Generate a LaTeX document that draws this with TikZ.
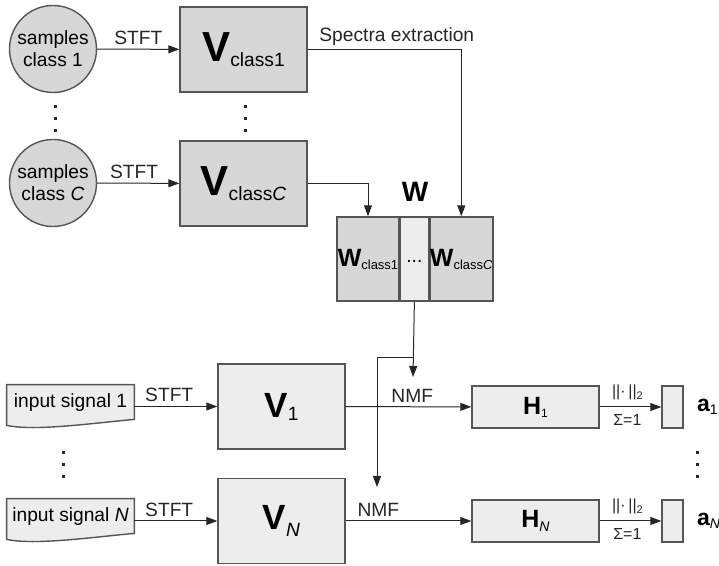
\documentclass[tikz,border=0pt]{standalone}
\usepackage{fontspec}
\setmainfont{Liberation Sans}
\usepackage{xcolor}
\usetikzlibrary{arrows.meta,positioning,backgrounds}
\definecolor{fillA}{RGB}{215,215,215}
\definecolor{fillB}{RGB}{237,237,237}
\definecolor{edge}{RGB}{85,85,85}
\newcommand{\lbl}{\fontsize{9.6}{11}\selectfont}
\newcommand{\sml}{\fontsize{8}{9}\selectfont}

\begin{document}
\begin{tikzpicture}[x=0.5pt, y=-0.5pt, font=\lbl,
  smp/.style={circle, draw=edge, line width=0.7pt, fill=fillA, minimum size=43.5pt, inner sep=0pt, align=center},
  vbox/.style={draw=edge, line width=0.7pt, fill=fillA, minimum width=63.5pt, minimum height=42.5pt, inner sep=0pt},
  hbox/.style={draw=edge, line width=0.7pt, fill=fillB, minimum width=63.5pt, minimum height=21pt, inner sep=0pt},
  abox/.style={draw=edge, line width=0.7pt, fill=fillB, minimum width=10.5pt, minimum height=21pt, inner sep=0pt},
  wpart/.style={draw=edge, line width=0.7pt, fill=fillA, minimum height=42pt, inner sep=0pt},
  sig/.style={minimum width=63.5pt, minimum height=18pt, inner sep=0pt},
  sigedge/.style={draw=edge, line width=0.7pt, fill=fillB},
  arr/.style={-{Triangle[length=5.5pt,width=4pt]}, line width=0.5pt, black!85},
  lab/.style={inner sep=2pt, font=\lbl},
  nlab/.style={inner sep=3.5pt, font=\sml}]
  \useasboundingbox (0,0) rectangle (719,566);
  % training part
  \node[smp] (c1) at (53,49) {samples\\class 1};
  \node[smp] (cC) at (53,183) {samples\\class \textit{C}};
  \node[vbox] (Vc1) at (243.5,49.5) {{\fontsize{21}{21}\selectfont\bfseries V}\raisebox{-2.5pt}{class1}};
  \node[vbox] (VcC) at (243.5,183.5) {{\fontsize{21}{21}\selectfont\bfseries V}\raisebox{-2.5pt}{class\textit{C}}};
  \draw[arr] (c1) -- (Vc1) node[lab, midway, above] (t1) {STFT};
  \draw[arr] (cC) -- (VcC) node[lab, pos=0.45, above] (tC) {STFT};
  % dictionary W
  \node[wpart, minimum width=31pt] (Wc1) at (368,259)
    {{\fontsize{12.5}{12.5}\selectfont\bfseries W}\raisebox{-1.5pt}{\fontsize{6.5}{7}\selectfont class1}};
  \node[wpart, fill=fillB, minimum width=14pt, right=0pt of Wc1] (Wd) {\raisebox{-4pt}{...}};
  \node[wpart, minimum width=31.5pt, right=0pt of Wd] (WcC)
    {{\fontsize{12.5}{12.5}\selectfont\bfseries W}\raisebox{-1.5pt}{\fontsize{6.5}{7}\selectfont class\textit{C}}};
  \node[font=\fontsize{14}{14}\selectfont\bfseries] (Wlab) at (415,192) {W};
  \draw[arr] (Vc1.east) -| (WcC.north) node[lab, pos=0.29, above] (spx) {Spectra extraction};
  \draw[arr] (VcC.east) -| (Wc1.north);
  % test part
  \node[sig] (in1) at (70.5,403) {input signal 1};
  \node[sig] (inN) at (70.5,517) {input signal \textit{N}};
  \begin{pgfonlayer}{background}
    \foreach \s in {in1,inN}
      \draw[sigedge] (\s.north west) -- (\s.north east) -- ([yshift=1pt]\s.south east)
        .. controls ([xshift=-22pt,yshift=-1pt]\s.south east) and ([xshift=14pt,yshift=-5pt]\s.south west)
        .. ([yshift=-2pt]\s.south west) -- cycle;
  \end{pgfonlayer}
  \node[vbox, fill=fillB] (V1) at (281.5,406.5) {{\fontsize{17.5}{17.5}\selectfont\bfseries V}\raisebox{-1.5pt}{1}};
  \node[vbox, fill=fillB] (VN) at (281.5,521) {{\fontsize{17.5}{17.5}\selectfont\bfseries V}\raisebox{-3.5pt}{\textit{N}}};
  \draw[arr] (in1.east |- V1.west) -- (V1.west) node[lab, pos=0.42, above] (s1) {STFT};
  \draw[arr] (inN.east |- VN.west) -- (VN.west) node[lab, pos=0.42, above] (sN) {STFT};
  \node[hbox] (H1) at (535.5,407) {{\fontsize{12.5}{12.5}\selectfont\bfseries H}\raisebox{-1.5pt}{\fontsize{6}{7}\selectfont 1}};
  \node[hbox] (HN) at (535.5,521) {{\fontsize{12.5}{12.5}\selectfont\bfseries H}\raisebox{-2pt}{\fontsize{7}{7}\selectfont\textit{N}}};
  \draw[arr] (V1) -- (H1) node[lab, pos=0.53, above] (m1) {NMF};
  \draw[arr] (VN) -- (HN) node[lab, pos=0.26, above] (mN) {NMF};
  % W feeds both NMF steps
  \coordinate (knee) at (413,358);
  \coordinate (tip1) at (413,377);
  \coordinate (tip2) at (377,487);
  \draw[arr] (Wd.south) -- (tip1);
  \draw[arr] (knee) -| (tip2);
  % activations
  \node[abox] (a1) at (672.5,407) {};
  \node[abox] (aN) at (672.5,521) {};
  \node[inner sep=0pt, right=6.5pt of a1] (a1lab)
    {{\fontsize{11.5}{11.5}\selectfont\bfseries a}\raisebox{-1.5pt}{\fontsize{7}{7}\selectfont 1}};
  \node[inner sep=0pt, right=6.5pt of aN] (aNlab)
    {{\fontsize{11.5}{11.5}\selectfont\bfseries a}\raisebox{-1.5pt}{\fontsize{7}{7}\selectfont\textit{N}}};
  \draw[arr] (H1) -- (a1) node[nlab, pos=0.45, above] (n1) {||·\,||\raisebox{-1.5pt}{\fontsize{5.5}{6}\selectfont 2}}
    node[nlab, pos=0.45, below] (u1) {Σ=1};
  \draw[arr] (HN) -- (aN) node[nlab, pos=0.45, above] (nN) {||·\,||\raisebox{-1.5pt}{\fontsize{5.5}{6}\selectfont 2}}
    node[nlab, pos=0.45, below] (uN) {Σ=1};
  % vertical dots
  \foreach \x/\y in {55/105.5, 245/105.5, 63/451.5, 697/451.5}
    \foreach \dy in {0,12,24}
      \fill[black!85] (\x-1.5,\y+\dy) rectangle ++(3,3);
\end{tikzpicture}
\end{document}
